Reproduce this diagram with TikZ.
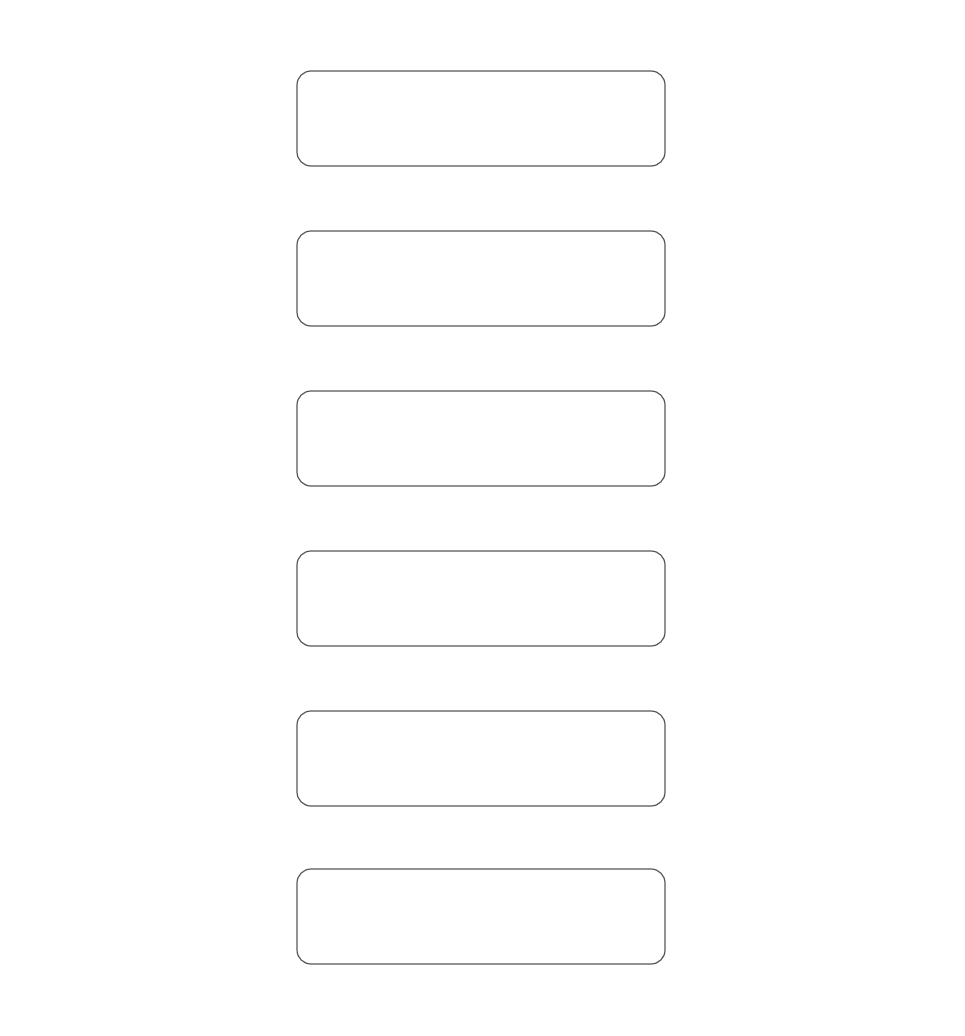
\documentclass[tikz,border=0pt]{standalone}
\begin{document}
\begin{tikzpicture}[x=1pt,y=-1pt,
  boxnode/.style={draw=black!66, line width=1.2pt, rounded corners=14pt, rectangle, minimum width=368pt, minimum height=95pt, inner sep=0pt, outer sep=0pt}]
\useasboundingbox (0,0) rectangle (964,1036);
\node[boxnode] (b1) at (481,118.5) {};
\node[boxnode] (b2) at (481,278.5) {};
\node[boxnode] (b3) at (481,438.5) {};
\node[boxnode] (b4) at (481,598.5) {};
\node[boxnode] (b5) at (481,758.5) {};
\node[boxnode] (b6) at (481,916.5) {};
\end{tikzpicture}
\end{document}
